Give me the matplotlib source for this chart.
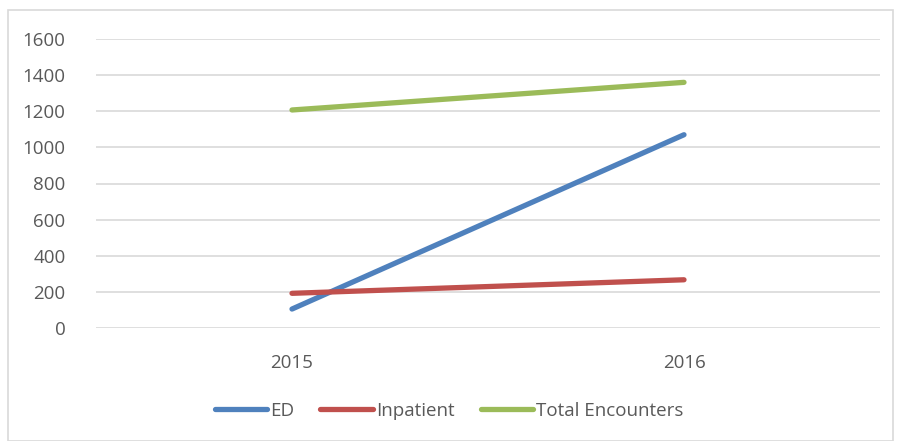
import matplotlib
matplotlib.use("Agg")
from matplotlib import pyplot as plt
from matplotlib.patches import Rectangle

years = ["2015", "2016"]
ed = [105, 1070]
inpatient = [192, 267]
total_encounters = [1207, 1360]

series_names = ["ED", "Inpatient", "Total Encounters"]
series_values = [ed, inpatient, total_encounters]
series_colors = ["#4F81BD", "#C0504D", "#9BBB59"]

plt.rcParams['font.family'] = ['Open Sans', 'DejaVu Sans']

fig = plt.figure(figsize=(8.98, 4.41), dpi=100)
W, H = 898, 441
ax = fig.add_axes([96 / W, 1 - 328 / H, (880 - 96) / W, (328 - 39) / H])

x = range(len(years))
for name, vals, col in zip(series_names, series_values, series_colors):
    ax.plot(x, vals, color=col, linewidth=3.8, solid_capstyle='round', label=name)

ax.set_xlim(-0.5, 1.5)
ax.set_ylim(0, 1600)
ax.set_yticks(range(0, 1601, 200))
ax.set_xticks(list(x))
ax.set_xticklabels(years)
ax.grid(axis='y', color='#D9D9D9', linewidth=1.2)
ax.set_axisbelow(True)
for s in ax.spines.values():
    s.set_visible(False)
ax.tick_params(axis='both', length=0, labelsize=13.5, colors='#595959')
ax.tick_params(axis='y', pad=22)
ax.tick_params(axis='x', pad=19)

leg = fig.legend(loc='center', bbox_to_anchor=(0.5, 1 - 411 / H), ncol=3, frameon=False,
                 fontsize=13.5, handlelength=2.8, handletextpad=0.15, columnspacing=1.4)
for t in leg.get_texts():
    t.set_color('#595959')

fig.patches.append(Rectangle((8 / W, 0), (893 - 8) / W, 1 - 10 / H, transform=fig.transFigure,
                             fill=False, edgecolor='#D9D9D9', linewidth=1.2))

fig.savefig("out.png", dpi=100)
